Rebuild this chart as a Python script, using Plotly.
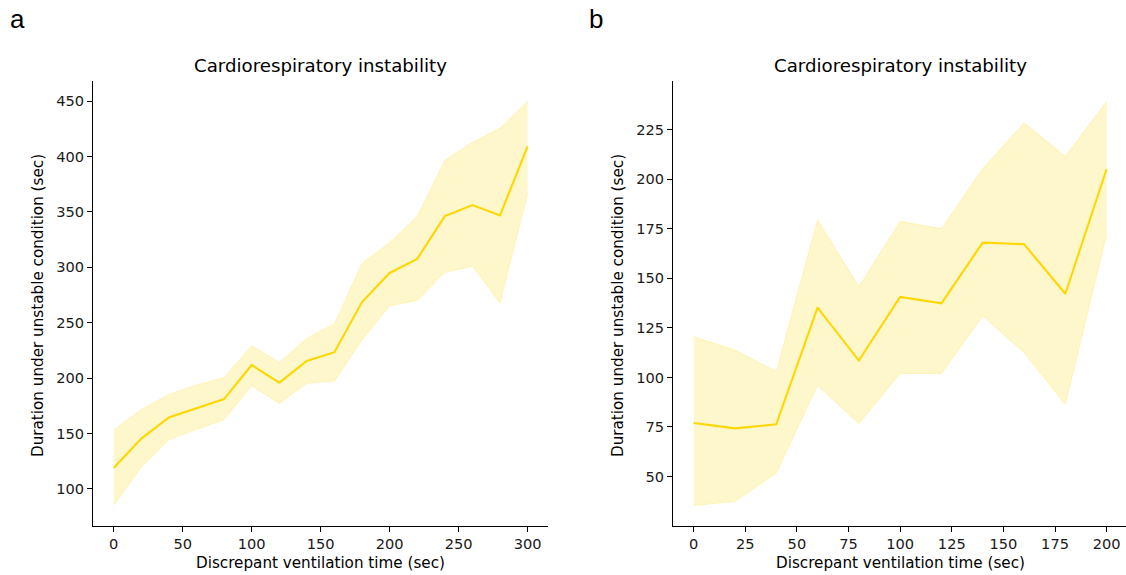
import plotly.graph_objects as go

# ---- Panel a data ----
x_a = [0, 20, 40, 60, 80, 100, 120, 140, 160, 180, 200, 220, 240, 260, 280, 300]
mean_a = [118.7, 145.3, 164.4, 172.5, 181.0, 211.8, 195.8, 215.4, 223.3, 268.6,
          294.9, 307.6, 346.2, 356.2, 346.9, 409.2]
upper_a = [152.9, 171.6, 185.2, 193.7, 200.3, 229.3, 213.9, 236.0, 249.0, 304.0,
           322.1, 346.2, 396.7, 412.8, 425.7, 450.0]
lower_a = [84.9, 119.6, 144.4, 153.5, 162.6, 193.0, 177.1, 195.2, 197.3, 234.4,
           265.3, 270.1, 295.5, 300.9, 267.7, 366.5]

# ---- Panel b data ----
x_b = [0, 20, 40, 60, 80, 100, 120, 140, 160, 180, 200]
mean_b = [77.0, 74.3, 76.3, 135.2, 108.5, 140.6, 137.4, 168.0, 167.2, 142.2, 205.1]
upper_b = [120.5, 113.8, 103.0, 179.5, 145.8, 178.7, 175.0, 205.4, 228.4, 211.5, 239.3]
lower_b = [35.4, 37.4, 51.7, 95.9, 76.7, 102.0, 102.0, 131.0, 112.4, 86.3, 172.1]

x_ticks_a = [0, 50, 100, 150, 200, 250, 300]
y_ticks_a = [100, 150, 200, 250, 300, 350, 400, 450]
x_ticks_b = [0, 25, 50, 75, 100, 125, 150, 175, 200]
y_ticks_b = [50, 75, 100, 125, 150, 175, 200, 225]

title_text = "Cardiorespiratory instability"
xlabel = "Discrepant ventilation time (sec)"
ylabel = "Duration under unstable condition (sec)"

W, H = 1126, 575
LINE = "#FFD700"
FILL = "rgba(255,215,0,0.2)"
EDGE = "rgba(255,215,0,0.2)"
FONT = "DejaVu Sans"

fig = go.Figure()

def add_panel(x, mean, upper, lower, xa, ya):
    fig.add_trace(go.Scatter(x=x, y=upper, mode="lines", line=dict(color=EDGE, width=1),
                             xaxis=xa, yaxis=ya, showlegend=False, hoverinfo="skip"))
    fig.add_trace(go.Scatter(x=x, y=lower, mode="lines", line=dict(color=EDGE, width=1),
                             fill="tonexty", fillcolor=FILL,
                             xaxis=xa, yaxis=ya, showlegend=False, hoverinfo="skip"))
    fig.add_trace(go.Scatter(x=x, y=mean, mode="lines", line=dict(color=LINE, width=2.1),
                             xaxis=xa, yaxis=ya, showlegend=False))

add_panel(x_a, mean_a, upper_a, lower_a, "x", "y")
add_panel(x_b, mean_b, upper_b, lower_b, "x2", "y2")

def rng(lo, hi):
    span = hi - lo
    return [lo - 0.05 * span, hi + 0.05 * span]

ydom = [1 - 525.7 / H, 1 - 81 / H]
xdom_a = [93 / W, 548.3 / W]
xdom_b = [673 / W, 1.0]

axis_common = dict(showgrid=False, zeroline=False, showline=True, linecolor="black",
                   linewidth=1.1, ticks="outside", ticklen=5, tickwidth=1.1,
                   tickcolor="black", tickfont=dict(family=FONT, size=14.6, color="#1a1a1a"),
                   mirror=False)

xr_b = rng(min(x_b), max(x_b))
# right panel extends slightly past the canvas edge
xr_b_end = xr_b[0] + (xr_b[1] - xr_b[0]) * (1126 - 673) / (1127.3 - 673)

fig.update_layout(
    width=W, height=H,
    margin=dict(l=0, r=0, t=0, b=0),
    plot_bgcolor="white", paper_bgcolor="white",
    xaxis=dict(domain=xdom_a, anchor="y", range=rng(min(x_a), max(x_a)),
               tickvals=x_ticks_a, **axis_common),
    yaxis=dict(domain=ydom, anchor="x",
               range=rng(min(lower_a), max(upper_a)),
               tickvals=y_ticks_a, **axis_common),
    xaxis2=dict(domain=xdom_b, anchor="y2", range=[xr_b[0], xr_b_end],
                tickvals=x_ticks_b, **axis_common),
    yaxis2=dict(domain=ydom, anchor="x2",
                range=rng(min(lower_b), max(upper_b)),
                tickvals=y_ticks_b, **axis_common),
)

annots = []
for letter, ycx, lx in [("a", 38, 17), ("b", 618, 596)]:
    cx = ((93 + 548.3) / 2) / W if letter == "a" else ((673 + 1127.3) / 2) / W
    annots.append(dict(text=title_text, x=cx, y=1 - 66 / H, xref="paper", yref="paper",
                       xanchor="center", yanchor="middle", showarrow=False,
                       font=dict(family=FONT, size=18.2, color="black")))
    annots.append(dict(text=xlabel, x=cx, y=1 - 563 / H, xref="paper", yref="paper",
                       xanchor="center", yanchor="middle", showarrow=False,
                       font=dict(family=FONT, size=15.2, color="black")))
    annots.append(dict(text=ylabel, x=ycx / W, y=1 - 306 / H, xref="paper", yref="paper",
                       xanchor="center", yanchor="middle", showarrow=False, textangle=-90,
                       font=dict(family=FONT, size=15.2, color="black")))
    annots.append(dict(text=letter, x=lx / W, y=1 - 19 / H, xref="paper", yref="paper",
                       xanchor="center", yanchor="middle", showarrow=False,
                       font=dict(family="Liberation Sans", size=26, color="black")))
fig.update_layout(annotations=annots)

fig.write_html("out.html")
